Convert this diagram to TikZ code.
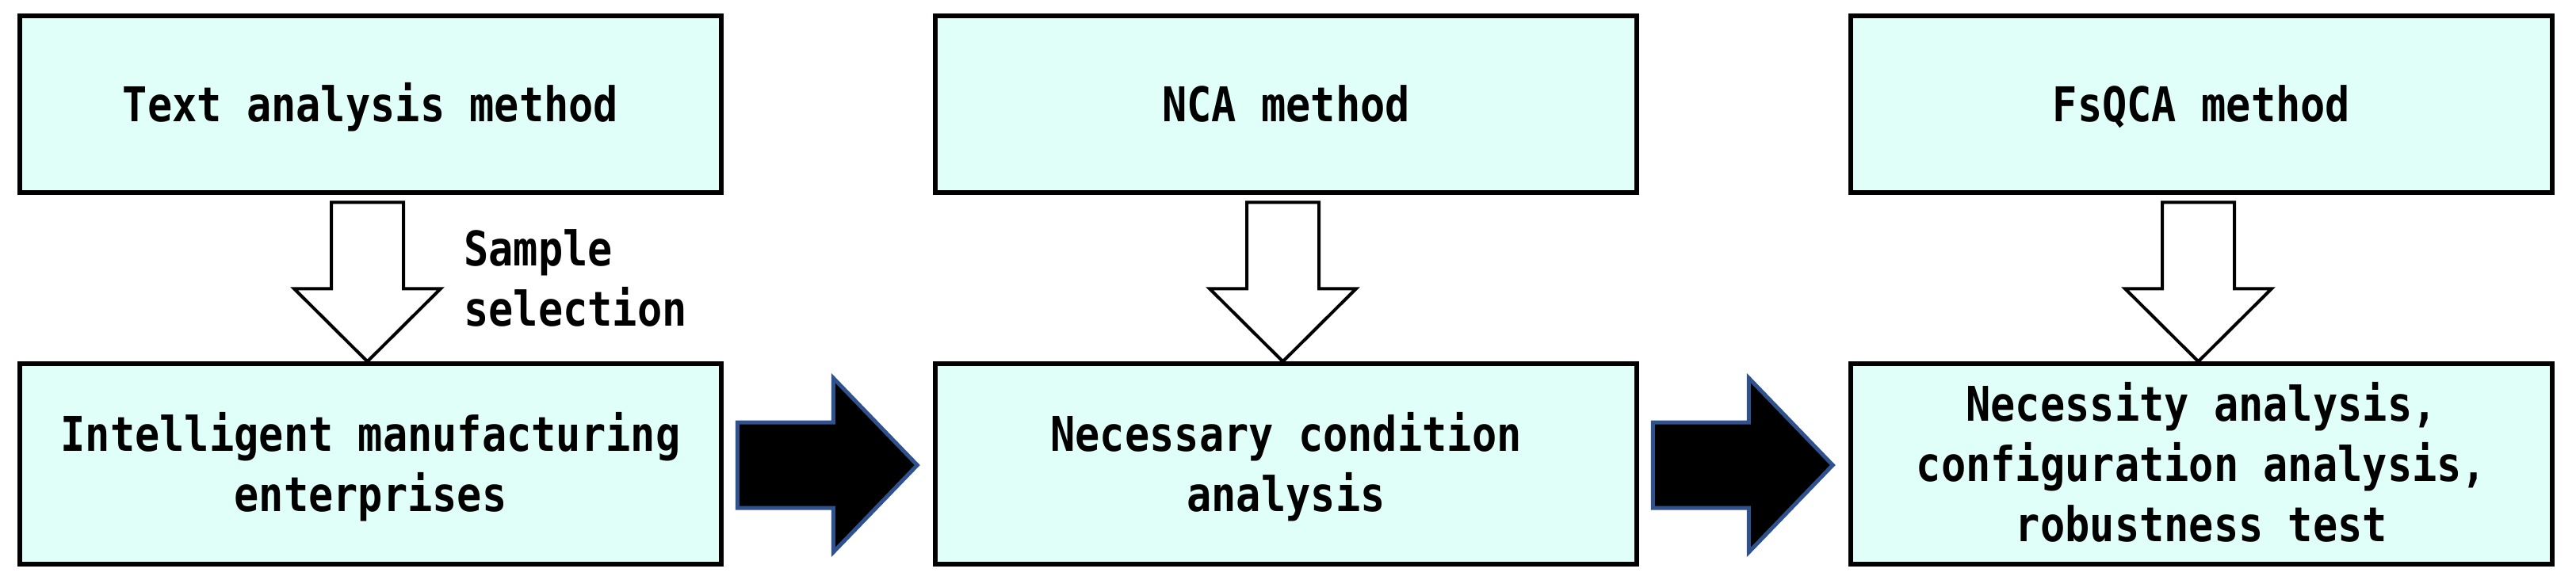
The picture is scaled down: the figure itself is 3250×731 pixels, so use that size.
\documentclass[tikz,border=0pt]{standalone}
\usepackage{fontspec}
\usetikzlibrary{calc}
\newfontfamily\diagfont[FakeStretch=0.86]{DejaVu Sans Mono}
\definecolor{boxfill}{RGB}{224,255,248}
\definecolor{arrowedge}{RGB}{47,82,143}
\begin{document}
\begin{tikzpicture}[x=1pt,y=-1pt,
  txtfont/.style={font=\diagfont\bfseries\fontsize{60.4}{76}\selectfont},
  box/.style={draw=black, line width=5.5pt, fill=boxfill, inner sep=0pt,
    minimum width=885pt, align=center, txtfont, text height=44pt, text depth=0pt},
  topbox/.style={box, minimum height=223pt},
  botbox/.style={box, minimum height=253pt},
  downarrow/.style={draw=black, line width=4pt, fill=white, line join=miter},
  rightarrow/.style={draw=arrowedge, line width=5pt, fill=black, line join=miter},
  lbl/.style={inner sep=0pt, align=left, txtfont}]
\useasboundingbox (0,0) rectangle (3250,731);
% top boxes
\node[topbox] (t1) at (467.5,131.5) {Text analysis method};
\node[topbox] (t2) at (1622.5,131.5) {NCA method};
\node[topbox] (t3) at (2777.5,131.5) {FsQCA method};
% bottom boxes
\node[botbox, text height=120pt] (b1) at (467.5,585.5) {Intelligent manufacturing\\enterprises};
\node[botbox, text height=120pt] (b2) at (1622.5,585.5) {Necessary condition\\analysis};
\node[botbox, text height=196pt] (b3) at (2777.5,585.5) {Necessity analysis,\\configuration analysis,\\robustness test};
% down arrows
\foreach \b in {b1,b2,b3}{
  \draw[downarrow] ($(\b.north)+(-4,0)$) -- ++(-92.5,-92) -- ++(47,0) -- ++(0,-109)
    -- ++(91,0) -- ++(0,109) -- ++(47,0) -- cycle;
}
% label
\node[lbl, anchor=north west, text height=119pt, text depth=0pt] (s1) at (585,292) {Sample\\selection};
% right block arrows
\draw[rightarrow] ($(b2.west)+(-20,1.5)$) -- ++(-106,-110) -- ++(0,56) -- ++(-121,0)
  -- ++(0,108) -- ++(121,0) -- ++(0,56) -- cycle;
\draw[rightarrow] ($(b3.west)+(-20,1.5)$) -- ++(-106,-110) -- ++(0,56) -- ++(-121,0)
  -- ++(0,108) -- ++(121,0) -- ++(0,56) -- cycle;
\end{tikzpicture}
\end{document}
